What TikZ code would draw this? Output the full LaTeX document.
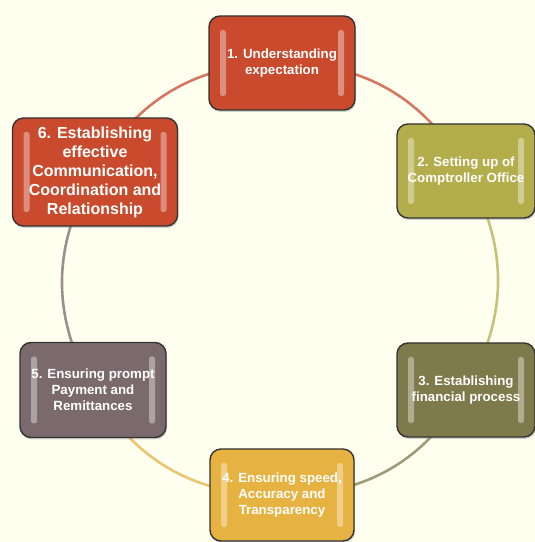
\documentclass[tikz,border=0pt]{standalone}
\usepackage{fontspec}
\setmainfont{Liberation Sans}
\usetikzlibrary{backgrounds,shadows}

\definecolor{bgcream}{HTML}{FFFFF0}
\definecolor{stepred}{HTML}{C94A2C}
\definecolor{stepolive}{HTML}{B3AD4C}
\definecolor{stepdark}{HTML}{7E7A4C}
\definecolor{stepgold}{HTML}{E6B241}
\definecolor{stepmauve}{HTML}{7A6A6E}

\tikzset{
  stepbox/.style={rounded corners=11pt, draw=black!80, line width=1.4pt, fill=#1,
    text=white, align=center, inner sep=1pt,
    font=\bfseries\fontsize{13.3}{16}\selectfont,
    drop shadow={opacity=0.35, shadow xshift=1pt, shadow yshift=-2pt},
    path picture={
      % glossy side stripes
      \fill[white, opacity=0.38, rounded corners=2.5pt]
        ([xshift=11pt,yshift=-14pt]path picture bounding box.north west) rectangle
        ([xshift=17pt,yshift=14pt]path picture bounding box.south west);
      \fill[white, opacity=0.38, rounded corners=2.5pt]
        ([xshift=-11pt,yshift=-14pt]path picture bounding box.north east) rectangle
        ([xshift=-17pt,yshift=14pt]path picture bounding box.south east);
    }},
  ring/.style={line width=2.6pt, #1},
}

\begin{document}
\begin{tikzpicture}[x=1pt, y=1pt]
  \useasboundingbox (0,0) rectangle (535,542);

  % steps round the circle
  \node[stepbox=stepred, minimum width=146pt, minimum height=94pt] (understand) at (282,479)
    {1. Understanding\\expectation};
  \node[stepbox=stepolive, minimum width=138pt, minimum height=94pt] (comptroller) at (466,371)
    {2. Setting up of\\Comptroller Office};
  \node[stepbox=stepdark, minimum width=138pt, minimum height=94pt] (process) at (466,152)
    {3. Establishing\\financial process};
  \node[stepbox=stepgold, minimum width=144pt, minimum height=92pt] (speed) at (282,47)
    {4. Ensuring speed,\\Accuracy and\\Transparency};
  \node[stepbox=stepmauve, minimum width=146pt, minimum height=95pt] (payment) at (93,152)
    {5. Ensuring prompt\\Payment and\\Remittances};
  \node[stepbox=stepred, minimum width=165pt, minimum height=108pt,
    font=\bfseries\fontsize{16}{19}\selectfont] (relation) at (95,370)
    {6. Establishing\\effective\\Communication,\\Coordination and\\Relationship};

  % background and connecting ring
  \begin{scope}[on background layer]
    \fill[bgcream] (0,0) rectangle (535,542);
    \draw[ring=stepred!75] (understand.center) to[bend left=30] (comptroller.center);
    \draw[ring=stepolive!75] (comptroller.center) to[bend left=30] (process.center);
    \draw[ring=stepdark!75] (process.center) to[bend left=30] (speed.center);
    \draw[ring=stepgold!75] (speed.center) to[bend left=30] (payment.center);
    \draw[ring=stepmauve!75] (payment.center) to[bend left=30] (relation.center);
    \draw[ring=stepred!75] (relation.center) to[bend left=30] (understand.center);
  \end{scope}
\end{tikzpicture}
\end{document}
